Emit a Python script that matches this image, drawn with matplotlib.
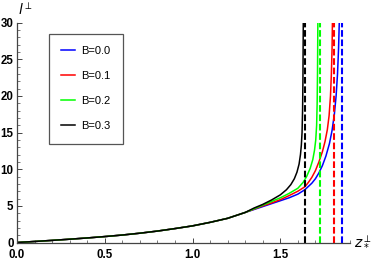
import matplotlib
matplotlib.use("Agg")
import matplotlib.pyplot as plt
from matplotlib.ticker import MultipleLocator

plt.rcParams['font.family'] = ['Liberation Sans', 'DejaVu Sans']

# shared part of all four curves (they coincide up to z ~ 1.3)
z_common = [0.0, 0.1, 0.2, 0.3, 0.4, 0.5, 0.6, 0.7, 0.8, 0.9, 1.0, 1.1, 1.2, 1.3]
l_common = [0.0, 0.14, 0.29, 0.45, 0.62, 0.81, 1.02, 1.27, 1.56, 1.9, 2.27, 2.75, 3.3, 4.1]

# tails
z_b0 = [1.35, 1.40, 1.45, 1.50, 1.55, 1.60, 1.64, 1.68, 1.70, 1.72, 1.74, 1.76, 1.78, 1.795, 1.808, 1.818, 1.826, 1.832, 1.836]
l_b0 = [4.5, 4.9, 5.3, 5.7, 6.1, 6.6, 7.2, 8.1, 8.7, 9.5, 10.5, 11.8, 13.5, 15.3, 17.5, 20.0, 23.0, 26.5, 30.0]

z_b1 = [1.35, 1.40, 1.45, 1.50, 1.55, 1.60, 1.64, 1.66, 1.68, 1.70, 1.72, 1.74, 1.755, 1.768, 1.778, 1.786, 1.791, 1.795, 1.797]
l_b1 = [4.55, 5.0, 5.4, 5.85, 6.4, 7.0, 7.6, 8.2, 8.9, 9.8, 11.0, 12.4, 13.8, 15.4, 17.3, 20.0, 23.0, 26.5, 30.0]

z_b2 = [1.35, 1.40, 1.45, 1.50, 1.55, 1.60, 1.63, 1.65, 1.67, 1.685, 1.695, 1.702, 1.707, 1.710, 1.712, 1.713, 1.714]
l_b2 = [4.6, 5.1, 5.6, 6.1, 6.7, 7.4, 8.2, 9.0, 10.1, 11.3, 12.6, 14.0, 16.0, 19.0, 23.0, 26.5, 30.0]

z_b3 = [1.35, 1.40, 1.45, 1.50, 1.535, 1.56, 1.58, 1.595, 1.607, 1.615, 1.62, 1.624, 1.627, 1.629, 1.630, 1.631]
l_b3 = [4.7, 5.2, 5.8, 6.5, 7.2, 7.9, 8.7, 9.6, 10.7, 12.0, 13.3, 15.0, 18.0, 22.0, 26.0, 30.0]

# asymptotes
z_max = [1.85, 1.807, 1.726, 1.64]
labels = ['B=0.0', 'B=0.1', 'B=0.2', 'B=0.3']
colors = ['#0000ff', '#ff0000', '#00ff00', '#000000']

fig = plt.figure(figsize=(3.74, 2.63), dpi=100)
ax = fig.add_axes([17 / 374, 20.5 / 263, 333.5 / 374, 219.8 / 263])

tails = [(z_b0, l_b0), (z_b1, l_b1), (z_b2, l_b2), (z_b3, l_b3)]
for (zt, lt), lab, c in zip(tails, labels, colors):
    ax.plot(z_common + zt, l_common + lt, color=c, lw=1.1, label=lab)
for zm, c in zip(z_max, colors):
    ax.plot([zm, zm], [0, 30], color=c, lw=1.5, ls=(0, (3.2, 1.3)))

ax.set_xlim(0, 1.9)
ax.set_ylim(0, 30)
for s in ['top', 'right']:
    ax.spines[s].set_visible(False)
for s in ['left', 'bottom']:
    ax.spines[s].set_color('#444444')
    ax.spines[s].set_linewidth(0.9)

ax.xaxis.set_major_locator(MultipleLocator(0.5))
ax.xaxis.set_minor_locator(MultipleLocator(0.1))
ax.yaxis.set_major_locator(MultipleLocator(5))
ax.yaxis.set_minor_locator(MultipleLocator(1))
ax.tick_params(which='major', direction='in', length=3.5, width=0.7, color='#444444', labelsize=8.3)
ax.tick_params(which='minor', direction='in', length=2, width=0.5, color='#444444')
ax.tick_params(axis='x', pad=5)
ax.tick_params(axis='y', pad=2.5)
ax.set_xticks([0, 0.5, 1.0, 1.5])
ax.set_xticklabels(['0.0', '0.5', '1.0', '1.5'], fontweight='bold')
ax.set_yticks([0, 5, 10, 15, 20, 25, 30])
ax.set_yticklabels(['0', '5', '10', '15', '20', '25', '30'], fontweight='bold')

fig.text(18 / 374, 1 - 10 / 263, r'$l^{\perp}$', fontsize=10, va='center', ha='left')
fig.text(354 / 374, 1 - 241 / 263, r'$z_*^{\perp}$', fontsize=10, va='center', ha='left')

leg = ax.legend(loc='upper left', bbox_to_anchor=(0.096, 0.948), fontsize=8, frameon=True,
                fancybox=False, framealpha=1, edgecolor='#555555', borderpad=1.1,
                labelspacing=1.35, handlelength=1.2, handletextpad=0.6, borderaxespad=0)
leg.get_frame().set_linewidth(0.9)

fig.savefig('out.png', dpi=100)
